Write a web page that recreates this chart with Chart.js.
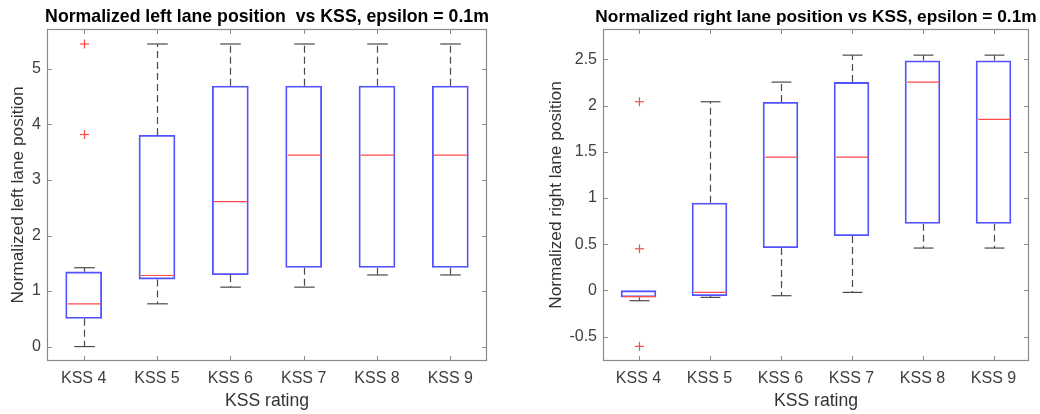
<!DOCTYPE html>
<html>
<head>
<meta charset="utf-8">
<script src="https://cdn.jsdelivr.net/npm/chart.js@4.4.1/dist/chart.umd.min.js"></script>
<style>
  body { margin: 0; background: #fff; }
  #wrap { position: relative; width: 1040px; height: 414px; overflow: hidden; }
  canvas { position: absolute; top: 0; }
</style>
</head>
<body>
<div id="wrap">
  <canvas id="left-chart" width="520" height="414" style="left:0"></canvas>
  <canvas id="right-chart" width="520" height="414" style="left:520px"></canvas>
</div>
<script>
// categories shared by both panels
const categories = ['KSS 4', 'KSS 5', 'KSS 6', 'KSS 7', 'KSS 8', 'KSS 9'];

// left lane position
const leftLow = [0, 0.77, 1.07, 1.07, 1.29, 1.29];
const leftQ1 = [0.5, 1.21, 1.29, 1.42, 1.42, 1.42];
const leftMedian = [0.77, 1.28, 2.61, 3.45, 3.45, 3.45];
const leftQ3 = [1.35, 3.81, 4.70, 4.70, 4.70, 4.70];
const leftHigh = [1.42, 5.45, 5.45, 5.45, 5.45, 5.45];
const leftOutliers = [[3.82, 5.45], [], [], [], [], []];
const leftTicks = [0, 1, 2, 3, 4, 5];

// right lane position
const rightLow = [-0.112, -0.076, -0.058, -0.022, 0.458, 0.458];
const rightQ1 = [-0.076, -0.062, 0.458, 0.588, 0.72, 0.72];
const rightMedian = [-0.069, -0.022, 1.443, 1.443, 2.255, 1.851];
const rightQ3 = [0, 0.949, 2.04, 2.255, 2.49, 2.49];
const rightHigh = [0, 2.042, 2.255, 2.547, 2.547, 2.547];
const rightOutliers = [[-0.606, 0.45, 2.042], [], [], [], [], []];
const rightTicks = [-0.5, 0, 0.5, 1, 1.5, 2, 2.5];

Chart.defaults.font.family = "'Liberation Sans', Arial, sans-serif";
Chart.defaults.color = '#404040';

function strokeLine(ctx, x1, y1, x2, y2) {
    ctx.beginPath();
    ctx.moveTo(x1, y1);
    ctx.lineTo(x2, y2);
    ctx.stroke();
}

// whiskers, medians, outliers, box frame and inner ticks (matlab look)
const boxPlotPlugin = {
    id: 'boxPlot',
    afterDatasetsDraw(chart, args, opts) {
        const ctx = chart.ctx;
        const x = chart.scales.x;
        const y = chart.scales.y;
        const area = chart.chartArea;
        const bars = chart.getDatasetMeta(0).data;
        ctx.save();

        opts.low.forEach((lo, i) => {
            const cx = Math.round(x.getPixelForValue(i)) + 0.5;
            const half = bars[i].width / 2;
            const cap = bars[i].width * 0.28;
            const pQ1 = y.getPixelForValue(opts.q1[i]);
            const pQ3 = y.getPixelForValue(opts.q3[i]);
            const pLo = y.getPixelForValue(lo);
            const pHi = y.getPixelForValue(opts.high[i]);

            ctx.strokeStyle = '#4a4a4a';
            ctx.lineWidth = 1.2;
            ctx.setLineDash([7, 4]);
            if (opts.high[i] > opts.q3[i]) strokeLine(ctx, cx, pQ3, cx, pHi);
            if (lo < opts.q1[i]) strokeLine(ctx, cx, pQ1, cx, pLo);
            ctx.setLineDash([]);
            if (opts.high[i] > opts.q3[i]) strokeLine(ctx, cx - cap, pHi, cx + cap, pHi);
            if (lo < opts.q1[i]) strokeLine(ctx, cx - cap, pLo, cx + cap, pLo);

            // median
            ctx.strokeStyle = '#ff4848';
            ctx.lineWidth = 1.2;
            const pMed = y.getPixelForValue(opts.median[i]);
            strokeLine(ctx, cx - half + 1.5, pMed, cx + half - 1.5, pMed);

            // outliers as red +
            opts.outliers[i].forEach(v => {
                const py = y.getPixelForValue(v);
                strokeLine(ctx, cx - 4.5, py, cx + 4.5, py);
                strokeLine(ctx, cx, py - 4.5, cx, py + 4.5);
            });
        });

        // axes box
        ctx.strokeStyle = '#8a8a8a';
        ctx.lineWidth = 1.2;
        ctx.strokeRect(area.left + 0.5, area.top + 0.5, area.right - area.left - 1, area.bottom - area.top - 1);

        // inner ticks
        ctx.lineWidth = 1;
        const tl = 5;
        categories.forEach((c, i) => {
            const px = Math.round(x.getPixelForValue(i)) + 0.5;
            strokeLine(ctx, px, area.bottom, px, area.bottom - tl);
            strokeLine(ctx, px, area.top, px, area.top + tl);
        });
        y.ticks.forEach(t => {
            const py = Math.round(y.getPixelForValue(t.value)) + 0.5;
            strokeLine(ctx, area.left, py, area.left + tl, py);
            strokeLine(ctx, area.right, py, area.right - tl, py);
        });

        // title
        ctx.fillStyle = '#000';
        ctx.font = 'bold ' + opts.titleSize + "px 'Liberation Sans', Arial, sans-serif";
        ctx.textAlign = 'center';
        ctx.textBaseline = 'middle';
        ctx.fillText(opts.title, (area.left + area.right) / 2, 17);
        ctx.restore();
    }
};

function makeBoxChart(canvasId, cfg) {
    const ctx = document.getElementById(canvasId).getContext('2d');
    return new Chart(ctx, {
        type: 'bar',
        data: {
            labels: categories,
            datasets: [{
                data: cfg.q1.map((v, i) => [v, cfg.q3[i]]),
                backgroundColor: 'rgba(0,0,0,0)',
                borderColor: '#5252ff',
                borderWidth: 1.8,
                borderSkipped: false,
                barPercentage: 0.5,
                categoryPercentage: 1
            }]
        },
        plugins: [boxPlotPlugin],
        options: {
            responsive: false,
            animation: false,
            devicePixelRatio: 1,
            layout: { padding: { left: 0, right: cfg.padRight, top: 29, bottom: 0 } },
            plugins: {
                legend: { display: false },
                tooltip: { enabled: false },
                title: { display: false },
                boxPlot: {
                    low: cfg.low, q1: cfg.q1, median: cfg.median, q3: cfg.q3,
                    high: cfg.high, outliers: cfg.outliers, title: cfg.title, titleSize: cfg.titleSize
                }
            },
            scales: {
                x: {
                    grid: { display: false, drawTicks: false },
                    border: { display: false },
                    ticks: { padding: 8, font: { size: 16 }, color: '#404040' },
                    title: { display: true, text: 'KSS rating', font: { size: 17.6 }, color: '#333', padding: { top: 0, bottom: 2 } },
                    afterFit: scale => { scale.height = 53; }
                },
                y: {
                    min: cfg.min,
                    max: cfg.max,
                    grid: { display: false, drawTicks: false },
                    border: { display: false },
                    ticks: { padding: 6, font: { size: 16 }, color: '#404040', callback: v => String(v) },
                    afterBuildTicks: scale => { scale.ticks = cfg.ticks.map(v => ({ value: v })); },
                    title: { display: true, text: cfg.yTitle, font: { size: 17.3 }, color: '#333', padding: { top: cfg.yTitlePad, bottom: 0 } },
                    afterFit: scale => { scale.width = cfg.yWidth; }
                }
            }
        }
    });
}

makeBoxChart('left-chart', {
    low: leftLow, q1: leftQ1, median: leftMedian, q3: leftQ3, high: leftHigh, outliers: leftOutliers,
    ticks: leftTicks, min: -0.26, max: 5.72,
    title: 'Normalized left lane position  vs KSS, epsilon = 0.1m', titleSize: 17.7,
    yTitle: 'Normalized left lane position',
    yWidth: 47, yTitlePad: 8, padRight: 33
});

makeBoxChart('right-chart', {
    low: rightLow, q1: rightQ1, median: rightMedian, q3: rightQ3, high: rightHigh, outliers: rightOutliers,
    ticks: rightTicks, min: -0.765, max: 2.83,
    title: 'Normalized right lane position vs KSS, epsilon = 0.1m', titleSize: 17.3,
    yTitle: 'Normalized right lane position',
    yWidth: 83, yTitlePad: 26, padRight: 11
});
</script>
</body>
</html>
